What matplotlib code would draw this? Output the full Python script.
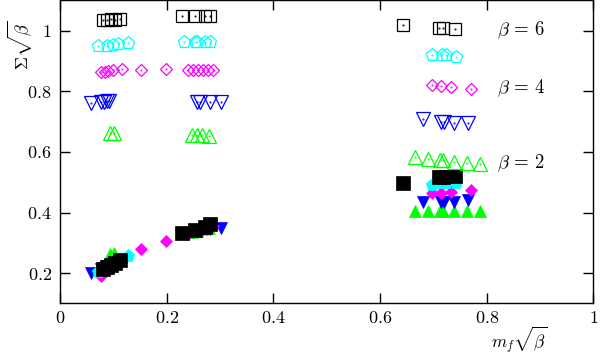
import numpy as np
import matplotlib
matplotlib.use("Agg")
import matplotlib.pyplot as plt

plt.rcParams['mathtext.fontset'] = 'cm'
plt.rcParams['font.family'] = 'serif'
plt.rcParams['font.serif'] = ['cmr10', 'DejaVu Serif']

# black squares
sq_x = [0.081, 0.088, 0.095, 0.103, 0.112, 0.228, 0.254, 0.272, 0.282, 0.643, 0.710, 0.718, 0.740]
sq_open = [1.036, 1.036, 1.037, 1.036, 1.037, 1.048, 1.048, 1.047, 1.047, 1.019, 1.010, 1.010, 1.006]
sq_fill = [0.215, 0.220, 0.228, 0.235, 0.242, 0.334, 0.343, 0.352, 0.361, 0.499, 0.516, 0.518, 0.520]

# cyan pentagons
pe_x = [0.072, 0.089, 0.099, 0.108, 0.128, 0.232, 0.253, 0.257, 0.272, 0.282, 0.697, 0.717, 0.723, 0.742]
pe_open = [0.951, 0.950, 0.954, 0.957, 0.960, 0.964, 0.964, 0.964, 0.964, 0.964, 0.920, 0.920, 0.920, 0.914]
pe_fill = [0.203, 0.218, 0.228, 0.236, 0.258, 0.330, 0.340, 0.342, 0.350, 0.355, 0.490, 0.496, 0.497, 0.498]

# magenta diamonds
di_x = [0.076, 0.084, 0.090, 0.100, 0.116, 0.152, 0.199, 0.240, 0.250, 0.259, 0.269, 0.278, 0.287,
        0.697, 0.715, 0.733, 0.770]
di_open = [0.862, 0.865, 0.867, 0.870, 0.872, 0.870, 0.872, 0.870, 0.870, 0.870, 0.870, 0.870, 0.870,
           0.821, 0.817, 0.814, 0.807]
di_fill = [0.192, 0.210, 0.220, 0.230, 0.240, 0.281, 0.306, 0.330, 0.335, 0.340, 0.345, 0.350, 0.355,
           0.465, 0.466, 0.468, 0.474]

# blue down triangles
dt_x = [0.059, 0.077, 0.082, 0.088, 0.092, 0.256, 0.262, 0.282, 0.301, 0.681, 0.715, 0.720, 0.738, 0.764]
dt_open = [0.762, 0.766, 0.766, 0.767, 0.767, 0.763, 0.765, 0.765, 0.763, 0.707, 0.699, 0.699, 0.697, 0.694]
dt_fill = [0.201, 0.214, 0.218, 0.222, 0.225, 0.338, 0.340, 0.345, 0.350, 0.435, 0.435, 0.435, 0.435, 0.440]

# green up triangles
ut_x = [0.093, 0.101, 0.247, 0.256, 0.266, 0.280, 0.665, 0.689, 0.712, 0.718, 0.738, 0.763, 0.787]
ut_open = [0.661, 0.661, 0.655, 0.655, 0.655, 0.654, 0.584, 0.578, 0.573, 0.573, 0.567, 0.562, 0.559]
ut_fill = [0.264, 0.266, 0.335, 0.340, 0.345, 0.350, 0.404, 0.404, 0.404, 0.404, 0.404, 0.404, 0.404]

beta_labels = [r'$\beta\,=\,6$', r'$\beta\,=\,4$', r'$\beta\,=\,2$']
beta_y = [1.002, 0.811, 0.563]

fig = plt.figure(figsize=(6, 3.57), dpi=100)
ax = fig.add_axes([0.1, 0.15, 0.889, 0.849])

series = [
    (sq_x, sq_open, sq_fill, 's', 'black', 8, 9.5),
    (pe_x, pe_open, pe_fill, 'p', 'cyan', 9.5, 9.5),
    (di_x, di_open, di_fill, 'D', 'magenta', 6.5, 6.5),
    (dt_x, dt_open, dt_fill, 'v', 'blue', 9.5, 8.5),
    (ut_x, ut_open, ut_fill, '^', 'lime', 9.5, 8.5),
]

# filled markers first (lower group), black on top
for x, yo, yf, m, c, ms_o, ms_f in reversed(series):
    ax.plot(x, yf, linestyle='none', marker=m, ms=ms_f, mfc=c, mec=c, mew=0.5)

for x, yo, yf, m, c, ms_o, ms_f in series:
    ax.plot(x, yo, linestyle='none', marker=m, ms=ms_o, mfc='none', mec=c, mew=0.9)
    ax.plot(x, yo, linestyle='none', marker='.', ms=1, color=c)

for lab, y in zip(beta_labels, beta_y):
    ax.text(0.82, y, lab, fontsize=13.5, ha='left', va='center')

ax.set_xlim(0, 1)
ax.set_ylim(0.1, 1.1)
ax.set_xticks([0, 0.2, 0.4, 0.6, 0.8, 1])
ax.set_xticklabels(['$0$', '$0.2$', '$0.4$', '$0.6$', '$0.8$', '$1$'])
ax.set_yticks([0.2, 0.4, 0.6, 0.8, 1])
ax.set_yticklabels(['$0.2$', '$0.4$', '$0.6$', '$0.8$', '$1$'])
ax.tick_params(direction='in', length=7, width=1, top=True, right=True, labelsize=13)
ax.tick_params(axis='x', pad=5)
ax.tick_params(axis='y', pad=6)
for s in ax.spines.values():
    s.set_linewidth(1)

ax.text(-0.075, 0.85, r'$\Sigma\sqrt{\beta}$', transform=ax.transAxes, fontsize=13,
        rotation=90, ha='center', va='center')
fig.text(0.865, 0.004, r'$m_f\sqrt{\beta}$', fontsize=12.5, ha='center', va='bottom')

fig.savefig('out.png', dpi=100)
